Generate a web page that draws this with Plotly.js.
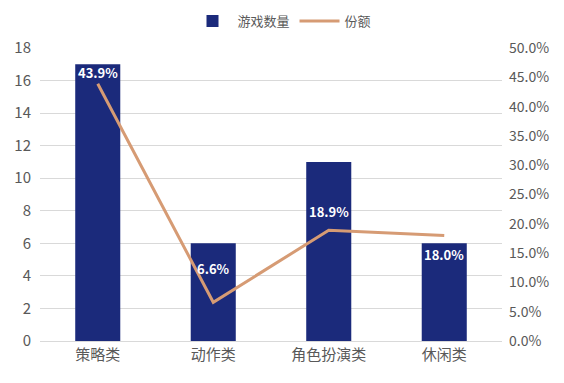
<!DOCTYPE html>
<html><head><meta charset="utf-8">
<script src="https://cdn.plot.ly/plotly-3.0.1.min.js"></script>
<style>html,body{margin:0;padding:0;background:#fff}#c{width:564px;height:383px}</style>
</head><body><div id="c"></div>
<script>
const categories = ['策略类','动作类','角色扮演类','休闲类'];
const counts = [17, 6, 11, 6];
const shares = [0.439, 0.066, 0.189, 0.180];
const shareLabels = ['43.9%','6.6%','18.9%','18.0%'];
const labelShift = [11, 34, 19, -19];

const font = {family: '"Noto Sans CJK SC", "Microsoft YaHei", sans-serif', color: '#595959', size: 14};

const traces = [
  {type:'bar', x:categories, y:counts, name:'游戏数量', marker:{color:'#1B2A7B'}, width:0.39},
  {type:'scatter', mode:'lines', x:categories, y:shares, yaxis:'y2', name:'份额', line:{color:'#D69B74', width:3}}
];
const annotations = categories.map((c,i)=>({
  x:c, y:shares[i], xref:'x', yref:'y2', text:'<b>'+shareLabels[i]+'</b>', showarrow:false,
  yshift:labelShift[i], font:{family:'"Noto Sans CJK SC", sans-serif', color:'#ffffff', size:13}
}));
const layout = {
  width:564, height:383,
  margin:{l:40, r:62, t:48, b:42},
  paper_bgcolor:'#fff', plot_bgcolor:'#fff',
  font: font,
  showlegend:true,
  legend:{orientation:'h', x:0.5, xanchor:'center', xref:'container', y:0.945, yref:'container', yanchor:'middle', font:{size:13, color:'#595959'}, itemwidth:40},
  xaxis:{tickfont:{size:15, color:'#595959'}, showline:true, linecolor:'#d9d9d9', ticks:''},
  yaxis:{range:[0,18], dtick:2, gridcolor:'#d9d9d9', zeroline:false, tickfont:{size:15, color:'#595959'}, ticklabelstandoff:8},
  yaxis2:{overlaying:'y', side:'right', range:[0,0.5], dtick:0.05, tickformat:'.1%', showgrid:false, zeroline:false, tickfont:{size:14, color:'#595959'}, ticklabelstandoff:6},
  annotations: annotations
};
Plotly.newPlot('c', traces, layout, {displayModeBar:false});
</script></body></html>
